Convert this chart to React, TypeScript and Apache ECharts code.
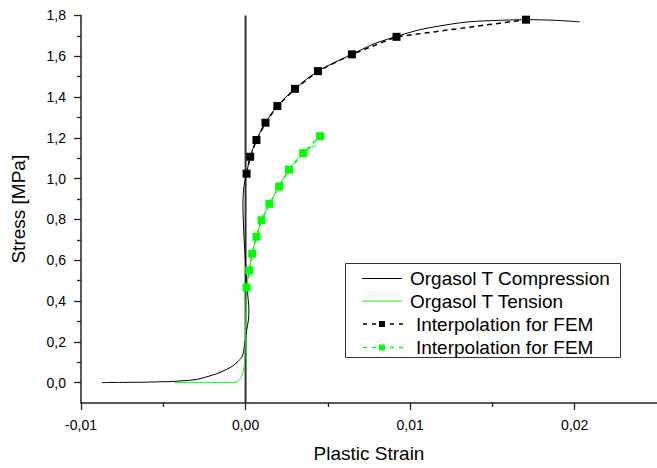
import { useEffect, useRef } from 'react';
import * as echarts from 'echarts';

// Measured curve: Orgasol T, compression (plastic strain, stress MPa)
const compStrain = [-0.00873, -0.0075, -0.0062, -0.0052, -0.0046, -0.0038, -0.003, -0.0022, -0.0017, -0.00117, -0.00075, -0.00045, -0.0002, -0.00006, 0.00005, 0.00018, 0.0002, 0.00012, 0.0, -0.0001, -0.00016, -0.0001, 0.00006, 0.00028, 0.00066, 0.00121, 0.00193, 0.003, 0.0044, 0.00646, 0.0078, 0.00917, 0.0105, 0.0117, 0.0135, 0.0155, 0.01704, 0.0188, 0.0203];
const compStress = [0.0, 0.001, 0.002, 0.004, 0.005, 0.009, 0.015, 0.032, 0.045, 0.064, 0.083, 0.105, 0.128, 0.185, 0.25, 0.31, 0.36, 0.44, 0.586, 0.72, 0.876, 0.96, 1.024, 1.107, 1.189, 1.274, 1.356, 1.44, 1.527, 1.609, 1.66, 1.697, 1.728, 1.747, 1.768, 1.776, 1.779, 1.776, 1.768];

// Measured curve: Orgasol T, tension
const tensStrain = [-0.0043, -0.003, -0.002, -0.001, -0.00066, -0.00036, -0.00016, -0.00006, 0.0, 0.00004, 0.00006, 0.00022, 0.0004, 0.00066, 0.00097, 0.00145, 0.00204, 0.00264, 0.0035, 0.0043];
const tensStress = [0.0, 0.0, 0.0, 0.0, 0.001, 0.016, 0.048, 0.104, 0.265, 0.426, 0.466, 0.55, 0.632, 0.715, 0.796, 0.876, 0.961, 1.044, 1.125, 1.165];

// Interpolation for FEM (compression)
const femCompStrain = [0.00006, 0.00028, 0.00066, 0.00121, 0.00193, 0.003, 0.0044, 0.00646, 0.00917, 0.01704];
const femCompStress = [1.024, 1.107, 1.189, 1.274, 1.356, 1.44, 1.527, 1.609, 1.695, 1.779];

// Interpolation for FEM (tension)
const femTensStrain = [0.00006, 0.00022, 0.0004, 0.00066, 0.00097, 0.00145, 0.00204, 0.00264, 0.0035, 0.00453];
const femTensStress = [0.466, 0.55, 0.632, 0.715, 0.796, 0.876, 0.961, 1.044, 1.125, 1.208];

const xMajorTicks = [-0.01, 0, 0.01, 0.02];
const xMinorTicks = [-0.005, 0.005, 0.015];
const yMajorTicks = [0, 0.2, 0.4, 0.6, 0.8, 1.0, 1.2, 1.4, 1.6, 1.8];
const yMinorTicks = [0.1, 0.3, 0.5, 0.7, 0.9, 1.1, 1.3, 1.5, 1.7];
const zeroLineX = [0, 0];
const zeroLineY = [-0.1, 1.8];

const seriesNames = ['Orgasol T Compression', 'Orgasol T Tension', 'Interpolation for FEM', 'Interpolation for FEM'];
const xTitle = 'Plastic Strain';
const yTitle = 'Stress [MPa]';

const zip = (a: number[], b: number[]) => a.map((v, i) => [v, b[i]]);

const FONT = '"Liberation Sans", Arial, sans-serif';
const GREEN = '#00ff00';

export default function App() {
  const ref = useRef<HTMLDivElement>(null);
  useEffect(() => {
    if (!ref.current) return;
    const chart = echarts.init(ref.current, undefined, { renderer: 'svg' });
    const axisCommon = {
      type: 'value' as const,
      splitLine: { show: false },
    };
    const legendRows = [278.5, 301, 324, 347.5];
    const legendEls: any[] = [
      {
        type: 'rect',
        shape: { x: 345.5, y: 263.5, width: 275, height: 94 },
        style: { fill: '#fff', stroke: '#333', lineWidth: 1 },
      },
    ];
    seriesNames.forEach((name, i) => {
      const y = legendRows[i];
      const color = i % 2 === 0 ? '#000' : GREEN;
      if (i < 2) {
        legendEls.push({
          type: 'line',
          shape: { x1: 362, y1: y, x2: 402, y2: y },
          style: { stroke: color, lineWidth: 1 },
        });
      } else {
        legendEls.push({
          type: 'line',
          shape: { x1: 363, y1: y, x2: 404, y2: y },
          style: { stroke: color, lineWidth: 1.3, lineDash: [4, 5] },
        });
        legendEls.push({
          type: 'rect',
          shape: { x: 379, y: y - 3, width: 6, height: 6 },
          style: { fill: color },
        });
      }
      legendEls.push({
        type: 'text',
        x: i < 2 ? 410 : 416,
        y,
        style: {
          text: name,
          fontSize: 19,
          fontFamily: FONT,
          fill: '#000',
          verticalAlign: 'middle',
          align: 'left',
        },
      });
    });

    chart.setOption({
      animation: false,
      backgroundColor: '#fff',
      grid: { left: 81, right: -3, top: 15.4, bottom: 58.9, containLabel: false },
      xAxis: [
        {
          ...axisCommon,
          min: -0.01,
          max: 0.025,
          name: xTitle,
          nameLocation: 'middle',
          nameGap: 41,
          nameTextStyle: { fontSize: 19, fontFamily: FONT, color: '#000' },
          axisLine: { show: true, onZero: false, lineStyle: { color: '#222', width: 1.5 } },
          axisTick: { show: true, inside: false, length: 7, customValues: xMajorTicks, lineStyle: { color: '#222', width: 1.3 } },
          axisLabel: {
            customValues: xMajorTicks,
            formatter: (v: number) => v.toFixed(2).replace('.', ','),
            fontSize: 14,
            fontFamily: FONT,
            color: '#000',
            margin: 15,
          },
        },
        {
          ...axisCommon,
          min: -0.01,
          max: 0.025,
          position: 'bottom',
          offset: 0,
          axisLine: { show: false, onZero: false },
          axisTick: { show: true, inside: false, length: 4, customValues: xMinorTicks, lineStyle: { color: '#222', width: 1.3 } },
          axisLabel: { show: false },
        },
      ],
      yAxis: [
        {
          ...axisCommon,
          min: -0.1,
          max: 1.8,
          name: yTitle,
          nameLocation: 'middle',
          nameGap: 53,
          nameTextStyle: { fontSize: 19, fontFamily: FONT, color: '#000' },
          axisLine: { show: true, onZero: false, lineStyle: { color: '#222', width: 1.5 } },
          axisTick: { show: true, inside: false, length: 7, customValues: yMajorTicks, lineStyle: { color: '#222', width: 1.3 } },
          axisLabel: {
            customValues: yMajorTicks,
            formatter: (v: number) => v.toFixed(1).replace('.', ','),
            fontSize: 14,
            fontFamily: FONT,
            color: '#000',
            margin: 15,
          },
        },
        {
          ...axisCommon,
          min: -0.1,
          max: 1.8,
          position: 'left',
          offset: 0,
          axisLine: { show: false, onZero: false },
          axisTick: { show: true, inside: false, length: 4, customValues: yMinorTicks, lineStyle: { color: '#222', width: 1.3 } },
          axisLabel: { show: false },
        },
      ],
      series: [
        {
          type: 'line',
          data: zip(zeroLineX, zeroLineY),
          symbol: 'none',
          lineStyle: { color: '#333', width: 2 },
          silent: true,
        },
        {
          name: seriesNames[0],
          type: 'line',
          data: zip(compStrain, compStress),
          symbol: 'none',
          smooth: 0.3,
          lineStyle: { color: '#000', width: 1 },
        },
        {
          name: seriesNames[1],
          type: 'line',
          data: zip(tensStrain, tensStress),
          symbol: 'none',
          smooth: 0.3,
          lineStyle: { color: GREEN, width: 1 },
        },
        {
          name: seriesNames[2],
          type: 'line',
          data: zip(femCompStrain, femCompStress),
          symbol: 'rect',
          symbolSize: 8,
          itemStyle: { color: '#000' },
          lineStyle: { color: '#000', width: 1.5, type: [5, 4] },
        },
        {
          name: seriesNames[3],
          type: 'line',
          data: zip(femTensStrain, femTensStress),
          symbol: 'rect',
          symbolSize: 8,
          itemStyle: { color: GREEN },
          lineStyle: { color: GREEN, width: 1.5, type: [5, 4] },
        },
      ],
      graphic: [{ type: 'group', children: legendEls }],
    });
    return () => chart.dispose();
  }, []);
  return (
    <div
      ref={ref}
      style={{ position: 'fixed', left: 0, top: 0, width: 657, height: 468, background: '#fff' }}
    />
  );
}
